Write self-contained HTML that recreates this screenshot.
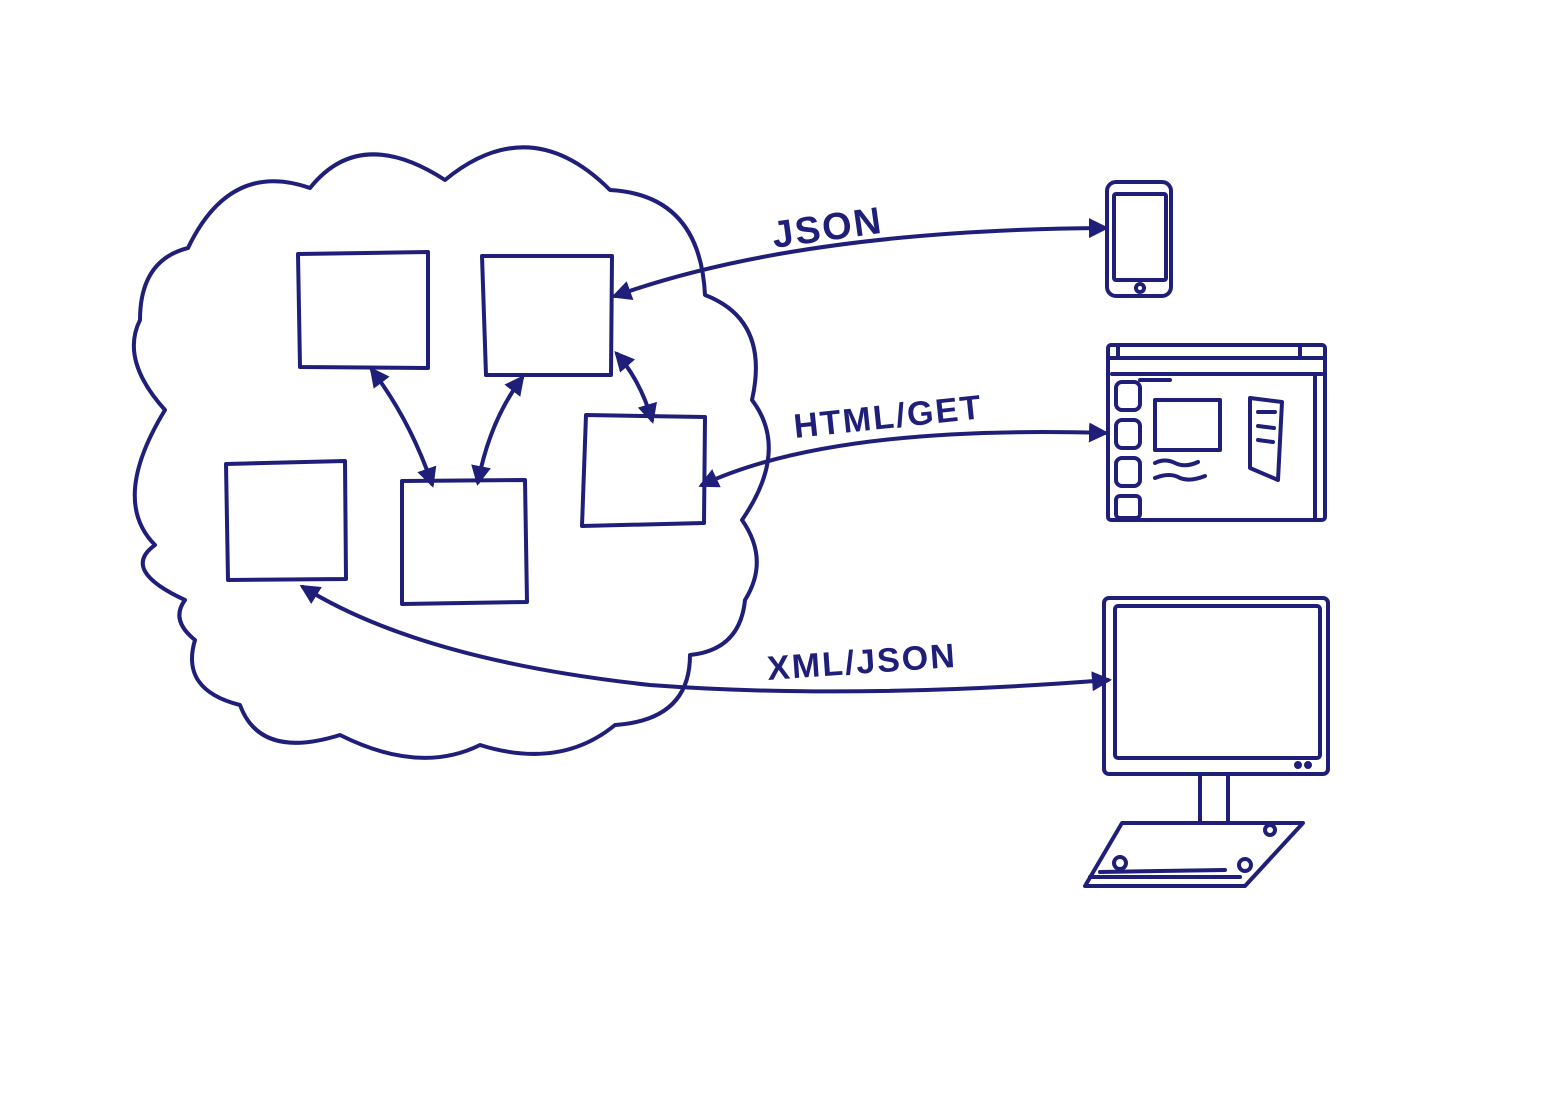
<!DOCTYPE html>
<html><head><meta charset="utf-8"><style>
html,body{margin:0;padding:0;background:#fff;}
svg{display:block}
text{font-family:"Liberation Sans",sans-serif;fill:#1f1f7a;font-weight:bold;letter-spacing:2px;}
</style></head><body>
<svg width="1550" height="1106" viewBox="0 0 1550 1106" xmlns="http://www.w3.org/2000/svg">
<defs>
<marker id="a" viewBox="0 0 10 10" refX="8" refY="5" markerWidth="5" markerHeight="5" orient="auto-start-reverse">
<path d="M0,0 L10,5 L0,10 z" fill="#1f1f7a"/></marker>
</defs>
<g fill="none" stroke="#1f1f7a" stroke-width="4" stroke-linecap="round" stroke-linejoin="round">
<path d="M188,248 Q230,160 310,188 Q360,125 445,180 Q530,110 610,190 Q700,195 705,295 Q770,320 752,400 Q790,450 742,520 Q770,560 745,600 Q740,650 690,655 Q690,720 615,725 Q560,770 480,745 Q420,775 340,735 Q260,760 240,705 Q180,690 195,640 Q170,620 185,600 Q120,570 155,545 Q110,500 165,410 Q120,360 140,320 Q140,260 188,248 Z"/>
<path d="M298,254 L428,252 L428,368 L300,367 Z"/>
<path d="M482,256 L612,256 L611,375 L486,375 Z"/>
<path d="M586,415 L705,417 L704,523 L582,526 Z"/>
<path d="M226,464 L345,461 L346,579 L228,580 Z"/>
<path d="M402,481 L525,480 L527,602 L402,604 Z"/>
<path d="M372,370 Q410,420 432,484" marker-start="url(#a)" marker-end="url(#a)"/>
<path d="M522,378 Q490,420 478,482" marker-start="url(#a)" marker-end="url(#a)"/>
<path d="M617,354 Q640,380 652,420" marker-start="url(#a)" marker-end="url(#a)"/>
<path d="M615,296 Q800,230 1105,228" marker-start="url(#a)" marker-end="url(#a)"/>
<path d="M702,485 Q830,425 1105,433" marker-start="url(#a)" marker-end="url(#a)"/>
<path d="M303,587 Q420,660 650,685 Q850,700 1108,680" marker-start="url(#a)" marker-end="url(#a)"/>
<rect x="1107" y="182" width="64" height="114" rx="9"/>
<rect x="1114" y="194" width="52" height="86" rx="2"/>
<circle cx="1140" cy="288" r="4"/>
<rect x="1108" y="345" width="217" height="175" rx="3"/>
<path d="M1110,358 L1323,358 M1112,374 L1322,374 M1315,374 L1315,518 M1118,347 L1118,358 M1300,347 L1300,358"/>
<rect x="1116" y="382" width="24" height="28" rx="6"/>
<rect x="1116" y="420" width="24" height="28" rx="6"/>
<rect x="1116" y="458" width="24" height="28" rx="6"/>
<rect x="1116" y="496" width="24" height="22" rx="4"/>
<rect x="1155" y="400" width="65" height="50"/>
<path d="M1250,398 L1282,402 L1278,480 L1250,468 Z M1258,412 L1275,412 M1258,426 L1274,428 M1258,440 L1273,442"/>
<path d="M1155,463 Q1165,458 1175,463 Q1185,468 1198,462 M1155,478 Q1170,472 1180,478 Q1190,482 1205,476"/>
<path d="M1140,380 L1170,380"/>
<rect x="1104" y="598" width="224" height="176" rx="5"/>
<rect x="1115" y="606" width="205" height="152" rx="3"/>
<path d="M1200,774 L1200,823 M1228,774 L1228,823"/>
<circle cx="1298" cy="765" r="2"/><circle cx="1308" cy="765" r="2"/>
<path d="M1122,823 L1303,823 L1245,886 L1085,886 Z"/>
<path d="M1090,877 L1240,877 M1100,872 L1225,870"/>
<circle cx="1120" cy="863" r="6"/><circle cx="1245" cy="865" r="6"/><circle cx="1270" cy="830" r="5"/>
</g>
<text x="774" y="248" font-size="38" transform="rotate(-8 774 248)">JSON</text>
<text x="795" y="438" font-size="34" transform="rotate(-6 795 438)">HTML/GET</text>
<text x="768" y="680" font-size="34" transform="rotate(-4 768 680)">XML/JSON</text>
</svg>
</body></html>
